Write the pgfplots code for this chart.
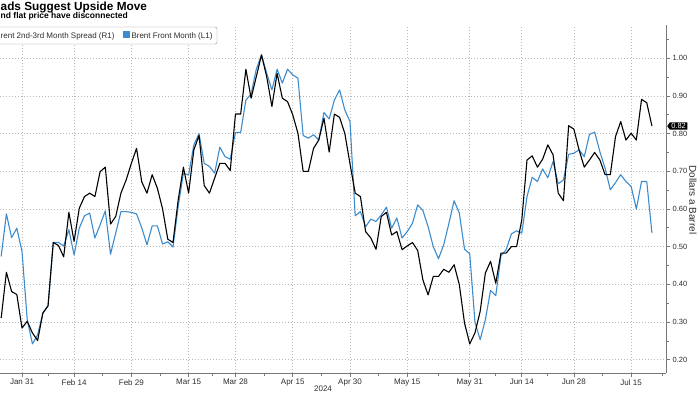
\documentclass[border=0pt]{standalone}
\usepackage{fontspec}
\setmainfont{Liberation Sans}
\usepackage{pgfplots}
\pgfplotsset{compat=1.18}
\usepackage{pgfplotstable}
\usetikzlibrary{shapes.symbols}
\definecolor{bbblue}{RGB}{60,140,205}
\definecolor{gridc}{RGB}{185,185,185}
\definecolor{axc}{RGB}{120,120,120}
\definecolor{txt}{RGB}{45,45,45}

% x = trading-day index (Jan 31 = 0)
\pgfplotstableread{
x y
-4 0.311
-3 0.432
-2 0.381
-1 0.373
0 0.284
1 0.302
2 0.271
3 0.251
4 0.324
5 0.343
6 0.511
7 0.503
8 0.473
9 0.591
10 0.514
11 0.602
12 0.633
13 0.642
14 0.633
15 0.699
16 0.711
17 0.56
18 0.58
19 0.642
20 0.677
21 0.721
22 0.761
23 0.672
24 0.642
25 0.691
26 0.655
27 0.60
28 0.52
29 0.511
30 0.624
31 0.711
32 0.642
33 0.757
34 0.795
35 0.662
36 0.642
37 0.682
38 0.721
39 0.721
40 0.702
41 0.852
42 0.852
43 0.971
44 0.894
45 0.951
46 1.009
47 0.951
48 0.872
49 0.96
50 0.894
51 0.885
52 0.85
53 0.801
54 0.70
55 0.70
56 0.761
57 0.783
58 0.841
59 0.751
60 0.852
61 0.843
62 0.801
63 0.72
64 0.642
65 0.633
66 0.54
67 0.523
68 0.493
69 0.58
70 0.591
71 0.531
72 0.54
73 0.492
74 0.502
75 0.511
76 0.49
77 0.412
78 0.372
79 0.421
80 0.421
81 0.44
82 0.432
83 0.452
84 0.399
85 0.297
86 0.242
87 0.271
88 0.328
89 0.43
90 0.461
91 0.403
92 0.483
93 0.483
94 0.50
95 0.50
96 0.571
97 0.73
98 0.741
99 0.711
100 0.732
101 0.77
102 0.744
103 0.642
104 0.622
105 0.821
106 0.812
107 0.757
108 0.711
109 0.73
110 0.75
111 0.73
112 0.691
113 0.691
114 0.792
115 0.832
116 0.783
117 0.801
118 0.783
119 0.891
120 0.882
121 0.82
}\spread

\pgfplotstableread{
x y
-4 0.474
-3 0.587
-2 0.524
-1 0.549
0 0.487
1 0.306
2 0.242
3 0.266
4 0.323
5 0.343
6 0.511
7 0.511
8 0.502
9 0.545
10 0.478
11 0.549
12 0.582
13 0.589
14 0.523
15 0.558
16 0.595
17 0.48
18 0.536
19 0.593
20 0.593
21 0.591
22 0.587
23 0.55
24 0.505
25 0.555
26 0.555
27 0.507
28 0.513
29 0.499
30 0.607
31 0.695
32 0.69
33 0.77
34 0.80
35 0.721
36 0.713
37 0.695
38 0.764
39 0.739
40 0.732
41 0.803
42 0.803
43 0.889
44 0.905
45 0.971
46 1.009
47 0.96
48 0.916
49 0.971
50 0.934
51 0.971
52 0.956
53 0.947
54 0.795
55 0.788
56 0.797
57 0.783
58 0.856
59 0.839
60 0.889
61 0.916
62 0.863
63 0.832
64 0.582
65 0.593
66 0.553
67 0.573
68 0.567
69 0.584
70 0.605
71 0.549
72 0.576
73 0.523
74 0.54
75 0.562
76 0.611
77 0.596
78 0.553
79 0.50
80 0.468
81 0.505
82 0.562
83 0.622
84 0.589
85 0.493
86 0.481
87 0.30
88 0.253
89 0.306
90 0.384
91 0.37
92 0.476
93 0.492
94 0.534
95 0.542
96 0.536
97 0.633
98 0.684
99 0.673
100 0.706
101 0.683
102 0.726
103 0.667
104 0.677
105 0.745
106 0.748
107 0.757
108 0.739
109 0.798
110 0.804
111 0.752
112 0.708
113 0.651
114 0.67
115 0.691
116 0.673
117 0.66
118 0.60
119 0.673
120 0.673
121 0.536
}\front

\begin{document}
\begin{tikzpicture}
\path[use as bounding box, clip] (0pt,0pt) rectangle (700pt,394pt);
\begin{axis}[
  at={(0pt,21pt)}, anchor=south west,
  width=666pt, height=348pt, scale only axis,
  xmin=-4.23, xmax=123.7, ymin=0.1647, ymax=1.0883,
  axis x line*=bottom, axis y line*=right,
  axis line style={draw=axc, line width=0.8pt, -},
  clip=false,
  xtick={0,10,21,32,41,52,63,74,86,96,106,117},
  xticklabels={Jan 31,Feb 14,Feb 29,Mar 15,Mar 28,Apr 15,Apr 30,May 15,May 31,Jun 14,Jun 28,Jul 15},
  minor xtick={-5,5,15.5,26.5,36.5,46.5,57.5,68.5,80,91,101,111.5,123},
  ytick={0.2,0.3,0.4,0.5,0.6,0.7,0.8,0.9,1.0},
  yticklabels={0.20,0.30,0.40,0.50,0.60,0.70,0.80,0.90,1.00},
  minor ytick={0.25,0.35,0.45,0.55,0.65,0.75,0.85,0.95,1.05},
  tick align=outside,
  major tick length=4pt, minor tick length=2.5pt,
  tick style={draw=axc, line width=0.7pt},
  xmajorgrids, ymajorgrids,
  major grid style={draw=gridc, line width=0.7pt, dash pattern=on 1pt off 2pt},
  x tick label style={font=\fontsize{8}{9}\selectfont, text=txt, inner sep=1pt, yshift=-1pt},
  y tick label style={font=\fontsize{7.5}{9}\selectfont, text=txt, inner sep=1pt, xshift=1.5pt},
]
\addplot[bbblue, line width=1.1pt, line join=round] table {\front};
\addplot[black, line width=1.1pt, line join=round] table {\spread};
\coordinate (lastlab) at (axis cs:123.7,0.82);
\end{axis}
\node[signal, signal to=west, signal pointer angle=110, fill=black, text=white,
      font=\fontsize{7.5}{8}\selectfont, inner xsep=1.5pt, inner ysep=1pt,
      anchor=west] at ([xshift=1pt]lastlab) {0.82};
\node[anchor=base west, font=\bfseries\fontsize{11.8}{13}\selectfont, text=black, inner sep=0pt] at (0.5pt,383pt) {ads Suggest Upside Move};
\node[anchor=base west, font=\bfseries\fontsize{8.5}{10}\selectfont, text=black, inner sep=0pt] at (0.5pt,375pt) {nd flat price have disconnected};
\draw[draw=axc!80, fill=white, rounded corners=1.5pt] (-6pt,350pt) rectangle (217pt,367pt);
\node[anchor=base west, font=\fontsize{8}{9.6}\selectfont, text=txt, inner sep=0pt] at (0.5pt,355.5pt) {rent 2nd-3rd Month Spread (R1)};
\node[anchor=base west, font=\fontsize{8}{9.6}\selectfont, text=txt, inner sep=0pt] at (123pt,355.5pt) {\textcolor{bbblue}{\rule{7pt}{7pt}}\,Brent Front Month (L1)};
\node[rotate=-90, font=\fontsize{10}{12}\selectfont, text=txt] at (693pt,194pt) {Dollars a Barrel};
\node[font=\fontsize{8}{9}\selectfont, text=txt] at (323pt,5.5pt) {2024};
\end{tikzpicture}
\end{document}
